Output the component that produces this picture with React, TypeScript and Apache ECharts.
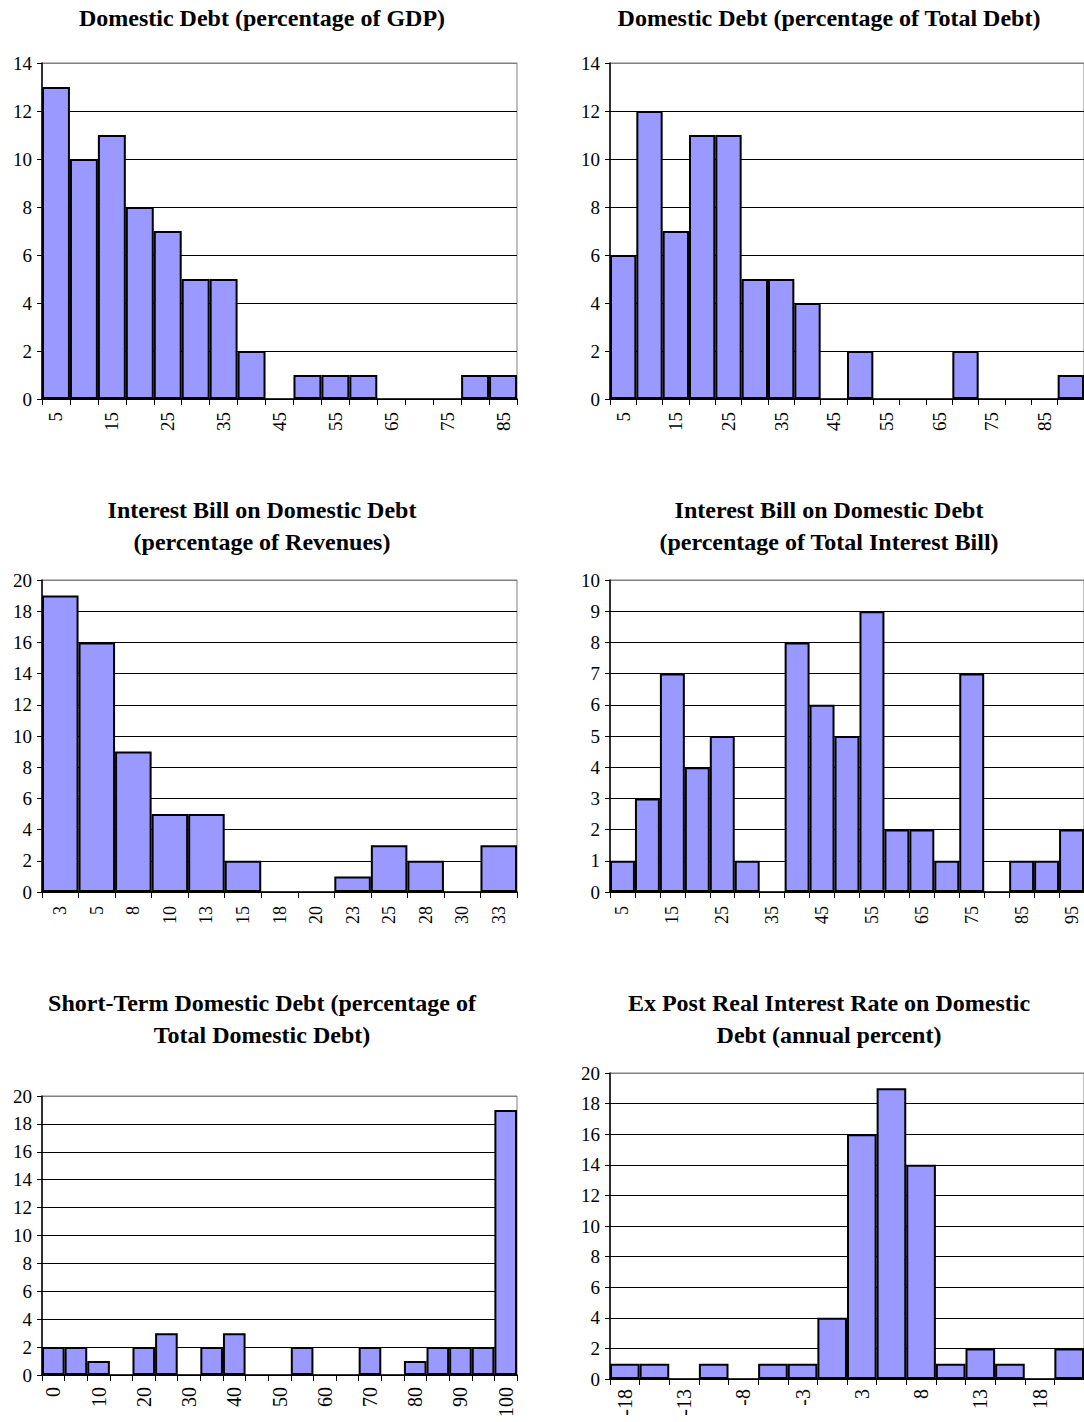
import React, { useEffect, useRef } from "react";
import * as echarts from "echarts";

// Panel 1: Domestic Debt (percentage of GDP)
const cats1 = ["5","10","15","20","25","30","35","40","45","50","55","60","65","70","75","80","85"];
const vals1 = [13,10,11,8,7,5,5,2,0,1,1,1,0,0,0,1,1];
// Panel 2: Domestic Debt (percentage of Total Debt)
const cats2 = ["5","10","15","20","25","30","35","40","45","50","55","60","65","70","75","80","85","90"];
const vals2 = [6,12,7,11,11,5,5,4,0,2,0,0,0,2,0,0,0,1];
// Panel 3: Interest Bill (percentage of Revenues)
const cats3 = ["3","5","8","10","13","15","18","20","23","25","28","30","33"];
const vals3 = [19,16,9,5,5,2,0,0,1,3,2,0,3];
// Panel 4: Interest Bill (percentage of Total Interest Bill)
const cats4 = ["5","10","15","20","25","30","35","40","45","50","55","60","65","70","75","80","85","90","95"];
const vals4 = [1,3,7,4,5,1,0,8,6,5,9,2,2,1,7,0,1,1,2];
// Panel 5: Short-Term Domestic Debt
const cats5 = ["0","5","10","15","20","25","30","35","40","45","50","55","60","65","70","75","80","85","90","95","100"];
const vals5 = [2,2,1,0,2,3,0,2,3,0,0,2,0,0,2,0,1,2,2,2,19];
// Panel 6: Ex Post Real Interest Rate
const cats6 = ["-18","-16","-13","-11","-8","-6","-3","0","3","5","8","10","13","15","18","20"];
const vals6 = [1,1,0,1,0,1,1,4,16,19,14,1,2,1,0,2];

const yMax = [14, 14, 20, 10, 20, 20];
const yStep = [2, 2, 2, 1, 2, 2];

const titles = [
  "Domestic Debt (percentage of GDP)",
  "Domestic Debt (percentage of Total Debt)",
  "Interest Bill on Domestic Debt\n(percentage of Revenues)",
  "Interest Bill on Domestic Debt\n(percentage of Total Interest Bill)",
  "Short-Term Domestic Debt (percentage of\nTotal Domestic Debt)",
  "Ex Post Real Interest Rate on Domestic\nDebt (annual percent)",
];

const FONT = '"Liberation Serif", "Times New Roman", serif';

export default function App() {
  const ref = useRef<HTMLDivElement>(null);
  useEffect(() => {
    document.body.style.margin = "0";
    const chart = echarts.init(ref.current!, undefined, { renderer: "svg" });
    const cats = [cats1, cats2, cats3, cats4, cats5, cats6];
    const vals = [vals1, vals2, vals3, vals4, vals5, vals6];
    const grids = [
      { left: 42, top: 63, width: 475, height: 336 },
      { left: 610, top: 63, width: 474, height: 336 },
      { left: 42, top: 580, width: 475, height: 312 },
      { left: 610, top: 580, width: 474, height: 312 },
      { left: 42, top: 1096, width: 475, height: 279 },
      { left: 610, top: 1073, width: 474, height: 306 },
    ];
    const labelInterval = [1, 1, 0, 1, 1, 1];
    const xFont = [19, 19, 18, 18, 20, 20];
    const xMargin = [13, 13, 14, 14, 12, 10];
    const titlePos = [
      [262, 18], [829, 18], [262, 526], [829, 526], [262, 1019], [829, 1019],
    ];
    const option: any = {
      animation: false,
      backgroundColor: "#fff",
      textStyle: { fontFamily: FONT },
      grid: grids.map((g) => ({
        ...g,
        show: true,
        borderColor: "#808080",
        borderWidth: 1,
        containLabel: false,
      })),
      xAxis: cats.map((c, i) => ({
        type: "category",
        gridIndex: i,
        data: c,
        boundaryGap: true,
        axisLine: { show: true, onZero: false, lineStyle: { color: "#000", width: 1.5 } },
        axisTick: { show: true, interval: 0, length: 6, lineStyle: { color: "#000" } },
        axisLabel: {
          interval: labelInterval[i],
          rotate: 90,
          margin: xMargin[i],
          color: "#000",
          fontSize: xFont[i],
          fontFamily: FONT,
        },
        splitLine: { show: false },
      })),
      yAxis: yMax.map((m, i) => {
        const n = m / yStep[i] + 1;
        const colors = Array.from({ length: n }, (_, k) => (k === n - 1 ? "#808080" : "#000"));
        return {
          type: "value",
          gridIndex: i,
          min: 0,
          max: m,
          interval: yStep[i],
          axisLine: { show: true, lineStyle: { color: "#000", width: 1.5 } },
          axisTick: { show: true, length: 5, lineStyle: { color: "#000" } },
          axisLabel: { color: "#000", fontSize: 19, margin: 10, fontFamily: FONT },
          splitLine: { show: true, lineStyle: { color: colors, width: 1 } },
        };
      }),
      series: vals.map((v, i) => ({
        type: "bar",
        xAxisIndex: i,
        yAxisIndex: i,
        data: v.map((x) => (x === 0 ? "-" : x)),
        barCategoryGap: 0,
        itemStyle: { color: "#9999FF", borderColor: "#000", borderWidth: 2 },
      })),
      graphic: titles.map((t, i) => ({
        type: "text",
        x: titlePos[i][0],
        y: titlePos[i][1],
        style: {
          text: t,
          align: "center",
          verticalAlign: "middle",
          font: `bold 24px ${FONT}`,
          lineHeight: 32,
          fill: "#000",
        },
      })),
    };
    chart.setOption(option);
    return () => chart.dispose();
  }, []);
  return <div ref={ref} style={{ width: 1084, height: 1422 }} />;
}
